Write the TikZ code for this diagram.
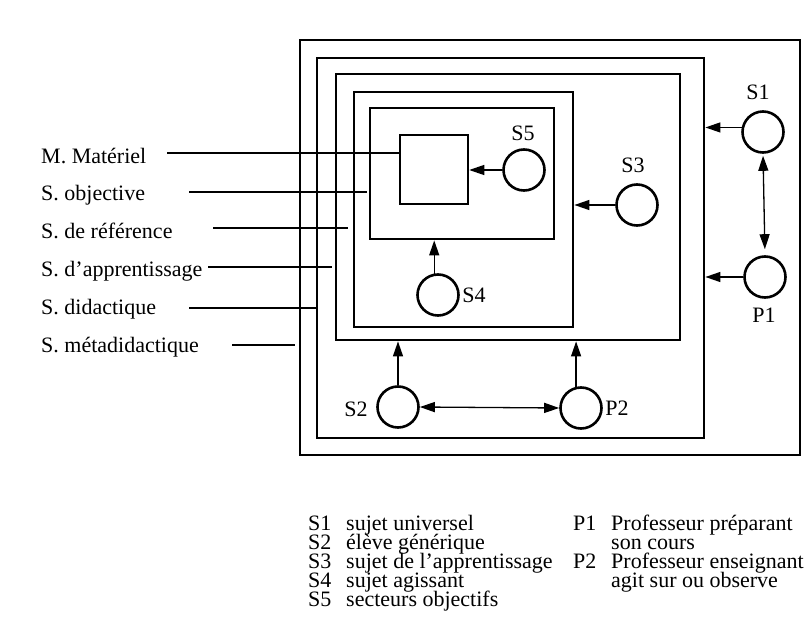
\documentclass[tikz,border=0pt]{standalone}
\usepackage{fontspec}
\setmainfont{Liberation Serif}
\usetikzlibrary{arrows.meta}
\begin{document}
\begin{tikzpicture}[x=1pt,y=-1pt,
  box/.style={draw, line width=2.8pt, inner sep=0pt},
  ring/.style={draw, circle, line width=2.6pt, minimum size=41pt, inner sep=0pt},
  lab/.style={inner sep=0pt, font=\fontsize{22}{24}\selectfont},
  leg/.style={inner sep=0pt, anchor=base west, font=\fontsize{22}{24}\selectfont},
  arr/.style={line width=1.3pt, -{Triangle[length=15pt,width=10pt]}},
  darr/.style={line width=1.3pt, {Triangle[length=15pt,width=10pt]}-{Triangle[length=15pt,width=10pt]}},
  lead/.style={line width=2pt},
]
\useasboundingbox (0,0) rectangle (812,626);
\fill[white] (0,0) rectangle (812,626);

% nested boxes
\node[box, minimum width=500pt, minimum height=415pt] (bMeta) at (550,247.5) {};
\node[box, minimum width=387pt, minimum height=380pt] (bDid) at (510.5,248) {};
\node[box, minimum width=344pt, minimum height=266pt] (bApp) at (508,207) {};
\node[box, minimum width=219pt, minimum height=235pt] (bRef) at (463.5,209.5) {};
\node[box, minimum width=184pt, minimum height=131pt] (bObj) at (462,173.5) {};
\node[box, line width=2.5pt, minimum width=68pt, minimum height=69pt] (bMat) at (434,169.5) {};

% circles
\node[ring] (S1) at (763,132) {};
\node[ring] (P1) at (765,277) {};
\node[ring] (S3) at (637,205) {};
\node[ring] (S5) at (524,170) {};
\node[ring] (S4) at (438,295) {};
\node[ring] (S2) at (398,407) {};
\node[ring] (P2) at (581,408) {};

% circle labels
\node[lab] (tS1) at (758,92) {S1};
\node[lab] (tS5) at (523,133) {S5};
\node[lab] (tS3) at (633,165) {S3};
\node[lab] (tS4) at (474,295) {S4};
\node[lab] (tP1) at (764,315) {P1};
\node[lab] (tS2) at (356,409) {S2};
\node[lab] (tP2) at (617,408) {P2};

% arrows
\draw[arr] (S1.168) -- (S1.168 -| bDid.east);
\draw[arr] (P1.west) -- (P1.west -| bDid.east);
\draw[darr, shorten <=2pt, shorten >=6pt] (S1.south) -- (P1.north);
\draw[arr] (S3.west) -- (S3.west -| bRef.east);
\draw[arr] (S5.west) -- (S5.west -| bMat.east);
\draw[arr] (S4.100) -- (S4.100 |- bObj.south);
\draw[arr] (S2.north) -- (S2.north |- bApp.south);
\draw[arr] (P2.103) -- (P2.103 |- bApp.south);
\draw[darr] (S2.east) -- (P2.west);

% left labels and leader lines
\node[lab, anchor=base west] (nMat) at (41,163) {M. Matériel};
\node[lab, anchor=base west] (nObj) at (41,200) {S. objective};
\node[lab, anchor=base west] (nRef) at (41,238) {S. de référence};
\node[lab, anchor=base west] (nApp) at (41,276) {S. d’apprentissage};
\node[lab, anchor=base west] (nDid) at (41,314) {S. didactique};
\node[lab, anchor=base west] (nMeta) at (41,352) {S. métadidactique};

\coordinate (lMat) at (167,153);
\coordinate (lObj) at (189,192);
\coordinate (lRef) at (213,228);
\coordinate (lApp) at (208,267);
\coordinate (lDid) at (189,308);
\coordinate (lMeta) at (232,345);
\draw[lead] (lMat) -- (lMat -| bMat.west);
\draw[lead] (lObj) -- ([xshift=-2pt]lObj -| bObj.west);
\draw[lead] (lRef) -- ([xshift=-5pt]lRef -| bRef.west);
\draw[lead] (lApp) -- ([xshift=-3pt]lApp -| bApp.west);
\draw[lead] (lDid) -- (lDid -| bDid.west);
\draw[lead] (lMeta) -- ([xshift=-4pt]lMeta -| bMeta.west);

% legend
\node[leg] (k1) at (308,530) {S1};
\node[leg] (k2) at (308,549) {S2};
\node[leg] (k3) at (308,568) {S3};
\node[leg] (k4) at (308,587) {S4};
\node[leg] (k5) at (308,606) {S5};
\node[leg] (d1) at (346,530) {sujet universel};
\node[leg] (d2) at (346,549) {élève générique};
\node[leg] (d3) at (346,568) {sujet de l’apprentissage};
\node[leg] (d4) at (346,587) {sujet agissant};
\node[leg] (d5) at (346,606) {secteurs objectifs};
\node[leg] (kp1) at (573,530) {P1};
\node[leg] (kp2) at (573,568) {P2};
\node[leg] (e1) at (611,530) {Professeur préparant};
\node[leg] (e2) at (611,549) {son cours};
\node[leg] (e3) at (611,568) {Professeur enseignant};
\node[leg] (e4) at (611,587) {agit sur ou observe};
\end{tikzpicture}
\end{document}
